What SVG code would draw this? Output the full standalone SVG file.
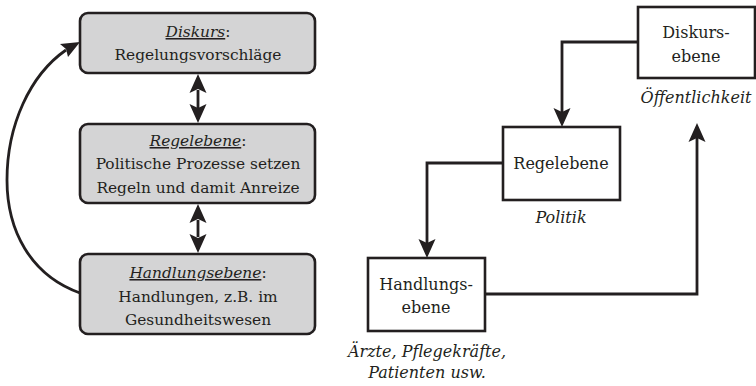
<svg xmlns="http://www.w3.org/2000/svg" width="756" height="386" viewBox="0 0 756 386">
<style>
text{font-family:"DejaVu Serif",serif;font-size:16px;fill:#231f20;text-anchor:middle}
.l{font-size:15.4px}
.it{font-style:italic}
.u{text-decoration:underline}
.gbox{fill:#d4d4d5;stroke:#231f20;stroke-width:2.6}
.wbox{fill:#fff;stroke:#231f20;stroke-width:2.6}
.con{fill:none;stroke:#231f20;stroke-width:2.8}
.ah{fill:#231f20}
</style>
<g id="connectors">
<path class="con" d="M198,90 V108"/>
<path class="ah" d="M198,74 L189.5,93 L198,89 L206.5,93 Z"/>
<path class="ah" d="M198,123 L189.5,104 L198,108 L206.5,104 Z"/>
<path class="con" d="M198,220 V237"/>
<path class="ah" d="M198,204 L189.5,223 L198,219 L206.5,223 Z"/>
<path class="ah" d="M198,253 L189.5,234 L198,238 L206.5,234 Z"/>
<path class="con" d="M80,293 C30,275 7,230 7,180 C7,125 30,75 66,50"/>
<path class="ah" d="M80,42 L60,44 L66,49 L68,57 Z"/>
<path class="con" d="M638,42 H562 V112"/>
<path class="ah" d="M562,127 L553.5,108 L562,112 L570.5,108 Z"/>
<path class="con" d="M503,163 H427 V243"/>
<path class="ah" d="M427,258 L418.5,239 L427,243 L435.5,239 Z"/>
<path class="con" d="M485,294 H697 V138"/>
<path class="ah" d="M697,123 L688.5,142 L697,138 L705.5,142 Z"/>
</g>
<g id="diskurs">
<rect class="gbox" x="80" y="13" width="235" height="60" rx="8"/>
<text class="l" x="198" y="37"><tspan class="it u">Diskurs</tspan>:</text>
<text class="l" x="198" y="60">Regelungsvorschläge</text>
</g>
<g id="regelebene">
<rect class="gbox" x="80" y="124" width="235" height="79" rx="8"/>
<text class="l" x="198" y="146"><tspan class="it u">Regelebene</tspan>:</text>
<text class="l" x="198" y="169">Politische Prozesse setzen</text>
<text class="l" x="198" y="193">Regeln und damit Anreize</text>
</g>
<g id="handlungsebene">
<rect class="gbox" x="80" y="254" width="235" height="80" rx="8"/>
<text class="l" x="198" y="278"><tspan class="it u">Handlungsebene</tspan>:</text>
<text class="l" x="198" y="302">Handlungen, z.B. im</text>
<text class="l" x="198" y="325">Gesundheitswesen</text>
</g>
<g id="r-diskurs">
<rect class="wbox" x="638" y="7" width="117" height="71"/>
<text x="696" y="38">Diskurs-</text>
<text x="696" y="62">ebene</text>
<text class="it" x="696" y="103">Öffentlichkeit</text>
</g>
<g id="r-regel">
<rect class="wbox" x="503" y="127" width="117" height="73"/>
<text x="561" y="169">Regelebene</text>
<text class="it" x="561" y="223">Politik</text>
</g>
<g id="r-handlung">
<rect class="wbox" x="368" y="258" width="117" height="73"/>
<text x="426" y="290">Handlungs-</text>
<text x="426" y="313">ebene</text>
<text class="it" x="427" y="357">Ärzte, Pflegekräfte,</text>
<text class="it" x="427" y="378">Patienten usw.</text>
</g>
</svg>
